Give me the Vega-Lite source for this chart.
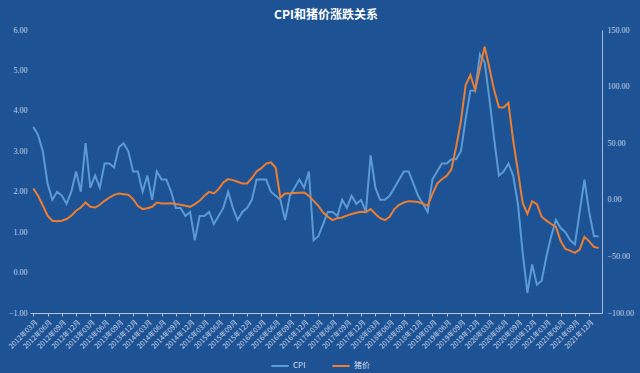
{
"$schema": "https://vega.github.io/schema/vega-lite/v6.json",
"width": 572, "height": 283,
"autosize": {"type": "none"},
"padding": {"left": 30, "top": 30, "right": 38, "bottom": 60},
"background": "#1d5394",
"title": {"text": "CPI和猪价涨跌关系", "font": "Noto Sans CJK SC", "fontSize": 12, "fontWeight": "bold", "color": "#ffffff", "anchor": "middle", "offset": 4, "dx": 10},
"config": {"view": {"stroke": null}, "axis": {"labelFont": "Liberation Serif, Noto Sans CJK SC", "labelColor": "#c6d2e6", "grid": false, "title": null}},
"data": {"values": [
{"m":"2012年03月","cpi":3.6,"pork":10},{"m":"2012年04月","cpi":3.4,"pork":3.5},{"m":"2012年05月","cpi":3.0,"pork":-5},{"m":"2012年06月","cpi":2.2,"pork":-14},{"m":"2012年07月","cpi":1.8,"pork":-18.5},{"m":"2012年08月","cpi":2.0,"pork":-19},{"m":"2012年09月","cpi":1.9,"pork":-18.5},{"m":"2012年10月","cpi":1.7,"pork":-17},{"m":"2012年11月","cpi":2.0,"pork":-14},{"m":"2012年12月","cpi":2.5,"pork":-9.7},
{"m":"2013年01月","cpi":2.0,"pork":-6.8},{"m":"2013年02月","cpi":3.2,"pork":-2.4},{"m":"2013年03月","cpi":2.1,"pork":-6.2},{"m":"2013年04月","cpi":2.4,"pork":-6.8},{"m":"2013年05月","cpi":2.1,"pork":-4.4},{"m":"2013年06月","cpi":2.7,"pork":-0.9},{"m":"2013年07月","cpi":2.7,"pork":2.0},{"m":"2013年08月","cpi":2.6,"pork":4.4},{"m":"2013年09月","cpi":3.1,"pork":5.6},{"m":"2013年10月","cpi":3.2,"pork":5.0},{"m":"2013年11月","cpi":3.0,"pork":4.4},{"m":"2013年12月","cpi":2.5,"pork":0.6},
{"m":"2014年01月","cpi":2.5,"pork":-5.3},{"m":"2014年02月","cpi":2.0,"pork":-8.2},{"m":"2014年03月","cpi":2.4,"pork":-7.4},{"m":"2014年04月","cpi":1.8,"pork":-6.2},{"m":"2014年05月","cpi":2.5,"pork":-2.4},{"m":"2014年06月","cpi":2.3,"pork":-3.2},{"m":"2014年07月","cpi":2.3,"pork":-3.2},{"m":"2014年08月","cpi":2.0,"pork":-3.0},{"m":"2014年09月","cpi":1.6,"pork":-3.8},{"m":"2014年10月","cpi":1.6,"pork":-4.4},{"m":"2014年11月","cpi":1.4,"pork":-5.3},{"m":"2014年12月","cpi":1.5,"pork":-6.2},
{"m":"2015年01月","cpi":0.8,"pork":-3.8},{"m":"2015年02月","cpi":1.4,"pork":-0.9},{"m":"2015年03月","cpi":1.4,"pork":3.5},{"m":"2015年04月","cpi":1.5,"pork":7.0},{"m":"2015年05月","cpi":1.2,"pork":5.6},{"m":"2015年06月","cpi":1.4,"pork":9.4},{"m":"2015年07月","cpi":1.6,"pork":15.3},{"m":"2015年08月","cpi":2.0,"pork":18.3},{"m":"2015年09月","cpi":1.6,"pork":17.4},{"m":"2015年10月","cpi":1.3,"pork":15.9},{"m":"2015年11月","cpi":1.5,"pork":14.4},{"m":"2015年12月","cpi":1.6,"pork":14.4},
{"m":"2016年01月","cpi":1.8,"pork":19.2},{"m":"2016年02月","cpi":2.3,"pork":25.0},{"m":"2016年03月","cpi":2.3,"pork":28.0},{"m":"2016年04月","cpi":2.3,"pork":32.0},{"m":"2016年05月","cpi":2.0,"pork":33.0},{"m":"2016年06月","cpi":1.9,"pork":28.5},{"m":"2016年07月","cpi":1.8,"pork":2.0},{"m":"2016年08月","cpi":1.3,"pork":5.6},{"m":"2016年09月","cpi":1.9,"pork":5.6},{"m":"2016年10月","cpi":2.1,"pork":5.9},{"m":"2016年11月","cpi":2.3,"pork":6.2},{"m":"2016年12月","cpi":2.1,"pork":6.5},
{"m":"2017年01月","cpi":2.5,"pork":3.5},{"m":"2017年02月","cpi":0.8,"pork":-0.9},{"m":"2017年03月","cpi":0.9,"pork":-5.3},{"m":"2017年04月","cpi":1.2,"pork":-11.2},{"m":"2017年05月","cpi":1.5,"pork":-15},{"m":"2017年06月","cpi":1.5,"pork":-18},{"m":"2017年07月","cpi":1.4,"pork":-16.2},{"m":"2017年08月","cpi":1.8,"pork":-15.6},{"m":"2017年09月","cpi":1.6,"pork":-14},{"m":"2017年10月","cpi":1.9,"pork":-12.6},{"m":"2017年11月","cpi":1.7,"pork":-11.5},{"m":"2017年12月","cpi":1.8,"pork":-10.6},
{"m":"2018年01月","cpi":1.5,"pork":-11},{"m":"2018年02月","cpi":2.9,"pork":-8.2},{"m":"2018年03月","cpi":2.1,"pork":-12.6},{"m":"2018年04月","cpi":1.8,"pork":-16.2},{"m":"2018年05月","cpi":1.8,"pork":-18},{"m":"2018年06月","cpi":1.9,"pork":-15},{"m":"2018年07月","cpi":2.1,"pork":-8.2},{"m":"2018年08月","cpi":2.3,"pork":-4.4},{"m":"2018年09月","cpi":2.5,"pork":-2.4},{"m":"2018年10月","cpi":2.5,"pork":-1.2},{"m":"2018年11月","cpi":2.2,"pork":-1.5},{"m":"2018年12月","cpi":1.9,"pork":-2},
{"m":"2019年01月","cpi":1.7,"pork":-3.5},{"m":"2019年02月","cpi":1.5,"pork":-5.3},{"m":"2019年03月","cpi":2.3,"pork":5.1},{"m":"2019年04月","cpi":2.5,"pork":14.4},{"m":"2019年05月","cpi":2.7,"pork":18.2},{"m":"2019年06月","cpi":2.7,"pork":21.1},{"m":"2019年07月","cpi":2.8,"pork":27.0},{"m":"2019年08月","cpi":2.8,"pork":46.7},{"m":"2019年09月","cpi":3.0,"pork":69.3},{"m":"2019年10月","cpi":3.8,"pork":101.3},{"m":"2019年11月","cpi":4.5,"pork":110.2},{"m":"2019年12月","cpi":4.5,"pork":97.0},
{"m":"2020年01月","cpi":5.4,"pork":116.0},{"m":"2020年02月","cpi":5.2,"pork":135.2},{"m":"2020年03月","cpi":4.3,"pork":116.4},{"m":"2020年04月","cpi":3.3,"pork":96.9},{"m":"2020年05月","cpi":2.4,"pork":81.7},{"m":"2020年06月","cpi":2.5,"pork":81.6},{"m":"2020年07月","cpi":2.7,"pork":85.7},{"m":"2020年08月","cpi":2.4,"pork":52.6},{"m":"2020年09月","cpi":1.7,"pork":25.5},{"m":"2020年10月","cpi":0.5,"pork":-2.8},{"m":"2020年11月","cpi":-0.5,"pork":-12.5},{"m":"2020年12月","cpi":0.2,"pork":-1.3},
{"m":"2021年01月","cpi":-0.3,"pork":-3.9},{"m":"2021年02月","cpi":-0.2,"pork":-14.9},{"m":"2021年03月","cpi":0.4,"pork":-18.4},{"m":"2021年04月","cpi":0.9,"pork":-21.4},{"m":"2021年05月","cpi":1.3,"pork":-23.8},{"m":"2021年06月","cpi":1.1,"pork":-36.5},{"m":"2021年07月","cpi":1.0,"pork":-43.5},{"m":"2021年08月","cpi":0.8,"pork":-44.9},{"m":"2021年09月","cpi":0.7,"pork":-46.9},{"m":"2021年10月","cpi":1.5,"pork":-44.0},{"m":"2021年11月","cpi":2.3,"pork":-32.7},{"m":"2021年12月","cpi":1.5,"pork":-36.7},
{"m":"2022年01月","cpi":0.9,"pork":-41.6},{"m":"2022年02月","cpi":0.9,"pork":-42.5}
]},
"encoding": {
  "x": {"field": "m", "type": "ordinal", "sort": null, "scale": {"type": "point", "padding": 0.7},
    "axis": {"values": ["2012年03月","2012年06月","2012年09月","2012年12月","2013年03月","2013年06月","2013年09月","2013年12月","2014年03月","2014年06月","2014年09月","2014年12月","2015年03月","2015年06月","2015年09月","2015年12月","2016年03月","2016年06月","2016年09月","2016年12月","2017年03月","2017年06月","2017年09月","2017年12月","2018年03月","2018年06月","2018年09月","2018年12月","2019年03月","2019年06月","2019年09月","2019年12月","2020年03月","2020年06月","2020年09月","2020年12月","2021年03月","2021年06月","2021年09月","2021年12月"],
      "labelAngle": -45, "labelFontSize": 7, "labelPadding": 2, "tickSize": 3, "tickColor": "#b4c3dc", "domainColor": "#b4c3dc", "labelFont": "Noto Sans CJK SC"}}
},
"layer": [
  {"mark": {"type": "line", "strokeWidth": 2},
   "encoding": {
     "y": {"field": "cpi", "type": "quantitative", "scale": {"domain": [-1, 6], "nice": false},
       "axis": {"orient": "left", "values": [-1,0,1,2,3,4,5,6], "format": ".2f", "domain": false, "ticks": false, "labelPadding": 3, "labelFontSize": 8}},
     "color": {"datum": "CPI", "type": "nominal", "scale": {"domain": ["CPI", "猪价"], "range": ["#5b9bd5", "#ed7d31"]},
       "legend": {"orient": "none", "legendX": 240, "legendY": 326, "direction": "horizontal", "title": null, "labelColor": "#d6deec", "labelFontSize": 8, "labelFont": "Noto Sans CJK SC", "symbolType": "stroke", "symbolStrokeWidth": 2, "symbolSize": 300, "columnPadding": 22, "padding": 0, "labelOffset": 3}}
   }},
  {"mark": {"type": "line", "strokeWidth": 2},
   "encoding": {
     "y": {"field": "pork", "type": "quantitative", "scale": {"domain": [-100, 150], "nice": false},
       "axis": {"orient": "right", "values": [-100,-50,0,50,100,150], "format": ".2f", "domain": true, "domainColor": "#a9b9d2", "ticks": false, "labelPadding": 5, "labelFontSize": 8}},
     "color": {"datum": "猪价", "type": "nominal"}
   }}
],
"resolve": {"scale": {"y": "independent"}}
}
